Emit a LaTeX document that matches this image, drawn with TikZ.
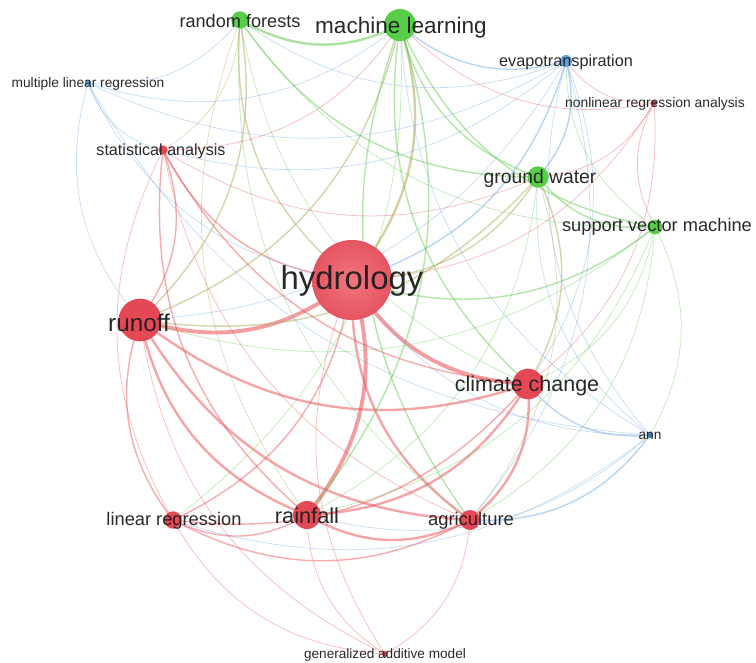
\documentclass[tikz,border=0pt]{standalone}
\usepackage{fontspec}
\setmainfont{Liberation Sans}
\pgfdeclarelayer{background}
\pgfdeclarelayer{edges}
\pgfsetlayers{background,edges,main}
\definecolor{cred}{RGB}{228,72,85}
\definecolor{chyin}{RGB}{240,118,126}
\definecolor{chyout}{RGB}{230,84,98}
\definecolor{cgreen}{RGB}{88,205,72}
\definecolor{cblue}{RGB}{96,162,222}
\definecolor{ered}{RGB}{238,90,95}
\definecolor{egreen}{RGB}{105,205,85}
\definecolor{eblue}{RGB}{115,172,230}
\definecolor{eolive}{RGB}{175,170,90}
\definecolor{txt}{RGB}{30,30,30}
\tikzset{
  kw/.style={circle, inner sep=0pt, draw=none},
  lbl/.style={text=txt, inner sep=0pt, fill opacity=0, text opacity=0.95},
  er/.style={draw=ered},
  eg/.style={draw=egreen},
  eb/.style={draw=eblue},
  eo/.style={draw=eolive},
  w1/.style={line width=0.55pt, draw opacity=0.4},
  w2/.style={line width=1.05pt, draw opacity=0.5},
  w3/.style={line width=1.8pt, draw opacity=0.55},
  w4/.style={line width=2.9pt, draw opacity=0.6},
}
\newcommand\fsz[1]{\fontsize{#1}{#1}\selectfont}
\begin{document}
\begin{tikzpicture}[x=0.75pt,y=-0.75pt]
\begin{pgfonlayer}{background}
\fill[white] (0,0) rectangle (756,663);
\end{pgfonlayer}
\useasboundingbox (0,0) rectangle (756,663);
% keyword circles
\node[kw, inner color=chyin, outer color=chyout, minimum size=60pt] (hy) at (352,280) {};
\node[kw, fill=cgreen, minimum size=24pt] (ml) at (400,25) {};
\node[kw, fill=cgreen, minimum size=13pt] (rf) at (240,20) {};
\node[kw, fill=cblue, minimum size=4.5pt] (mlr) at (88,83) {};
\node[kw, fill=cred, minimum size=7pt] (sa) at (163,150) {};
\node[kw, fill=cblue, minimum size=9pt] (ev) at (566,61) {};
\node[kw, fill=cred!85!black, minimum size=4.5pt] (nra) at (654,103) {};
\node[kw, fill=cgreen, minimum size=16pt] (gw) at (538,177) {};
\node[kw, fill=cgreen, minimum size=11pt] (svm) at (655,227) {};
\node[kw, fill=cred, minimum size=32pt] (ro) at (140,320) {};
\node[kw, fill=cred, minimum size=23pt] (cc) at (528,384) {};
\node[kw, fill=cblue!80!black, minimum size=4.5pt] (ann) at (650,435) {};
\node[kw, fill=cred, minimum size=13pt] (lr) at (173,520) {};
\node[kw, fill=cred, minimum size=21pt] (rain) at (307,515) {};
\node[kw, fill=cred, minimum size=15pt] (agri) at (470,520) {};
\node[kw, fill=cred, minimum size=4.5pt] (gam) at (385,654) {};
% edges
\begin{pgfonlayer}{edges}
\foreach \a/\b/\w/\c in {
  ro/hy/4/er, rain/hy/4/er, hy/cc/4/er, hy/agri/3/er, hy/ml/3/eo, hy/gw/2/eo,
  hy/svm/2/eg, hy/ev/2/eb, rf/hy/2/eo, sa/hy/2/er, lr/hy/2/er, mlr/hy/1/eb,
  hy/ann/1/eb, hy/gam/1/er, hy/nra/1/er,
  ro/rain/3/er, ro/cc/3/er, ro/agri/3/er, ro/lr/2/er, ro/sa/2/er, ro/rf/2/eo,
  ro/ml/2/eo, ro/gw/2/eo, mlr/ro/1/eb, ro/gam/1/er, ro/ev/1/eb, ro/svm/1/eg,
  rain/cc/3/er, agri/cc/3/er, lr/cc/2/er, sa/cc/2/er, ml/cc/2/eg, cc/gw/2/eo,
  cc/ann/2/eb, rf/cc/1/eg, cc/svm/1/eg, cc/ev/1/eb, cc/nra/1/er,
  lr/rain/2/er, rain/agri/3/er, sa/rain/2/er, rf/rain/1/eo, rain/ml/2/eg,
  rain/gw/1/eg, rain/gam/1/er, rain/svm/1/eg, rain/ann/1/eb,
  lr/agri/2/er, sa/agri/1/er, agri/ann/2/eb, gam/agri/1/er, ml/agri/2/eg,
  agri/gw/1/eo, agri/svm/1/eg, agri/ev/1/eb, rf/agri/1/eg,
  lr/gam/1/er, sa/lr/1/er, lr/ml/1/eg, lr/ann/1/eb,
  sa/rf/1/eo, sa/ml/1/er, sa/gw/1/er, sa/ev/1/eb, mlr/sa/1/eb,
  rf/ml/3/eg, ml/gw/2/eg, ml/svm/2/eg, ml/ev/2/eb, ml/ann/1/eb, mlr/ml/1/eb,
  ml/nra/1/er, rf/gw/2/eg, rf/svm/1/eg, rf/ev/1/eb, mlr/rf/1/eb,
  gw/svm/2/eg, gw/ev/2/eb, gw/ann/1/eb, gw/nra/1/er,
  ev/ann/1/eb, ev/svm/1/eg, mlr/ev/1/eb, ev/nra/1/er,
  ann/svm/1/eg, nra/svm/1/er, mlr/ann/1/eb}
  \draw[\c, w\w] (\a.center) to[bend right=28] (\b.center);
\end{pgfonlayer}
% labels
\node[lbl, font=\fsz{24.7}] (hyL) at (352,281) {hydrology};
\node[lbl, font=\fsz{16.9}] (mlL) at (401,28) {machine learning};
\node[lbl, font=\fsz{13.6}] (rfL) at (240,21) {random forests};
\node[lbl, font=\fsz{10.3}] (mlrL) at (88,84) {multiple linear regression};
\node[lbl, font=\fsz{12.1}] (saL) at (161,151) {statistical analysis};
\node[lbl, font=\fsz{12.2}] (evL) at (566,62) {evapotranspiration};
\node[lbl, font=\fsz{10.4}] (nraL) at (655,104) {nonlinear regression analysis};
\node[lbl, font=\fsz{14.5}] (gwL) at (540,179) {ground water};
\node[lbl, font=\fsz{13.7}] (svmL) at (657,227) {support vector machine};
\node[lbl, font=\fsz{18.2}] (roL) at (139,323) {runoff};
\node[lbl, font=\fsz{16.1}] (ccL) at (527,386) {climate change};
\node[lbl, font=\fsz{10.3}] (annL) at (650,436) {ann};
\node[lbl, font=\fsz{13.7}] (lrL) at (174,521) {linear regression};
\node[lbl, font=\fsz{16.3}] (rainL) at (307,516) {rainfall};
\node[lbl, font=\fsz{13.8}] (agriL) at (471,521) {agriculture};
\node[lbl, font=\fsz{10.2}] (gamL) at (385,655) {generalized additive model};
\end{tikzpicture}
\end{document}
